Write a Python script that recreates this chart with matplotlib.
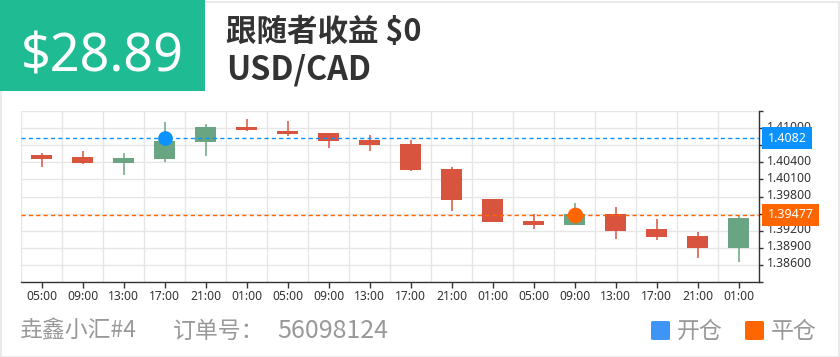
import matplotlib
matplotlib.use("Agg")
import matplotlib.pyplot as plt
import matplotlib.transforms as mtransforms
from matplotlib.patches import Rectangle, FancyBboxPatch
import numpy as np

plt.rcParams['font.family'] = ['Noto Sans CJK SC', 'DejaVu Sans']

# ---- data ----
time_labels = ["05:00", "09:00", "13:00", "17:00", "21:00", "01:00", "05:00", "09:00", "13:00",
               "17:00", "21:00", "01:00", "05:00", "09:00", "13:00", "17:00", "21:00", "01:00"]
opens  = [1.40528, 1.40488, 1.40388, 1.40453, 1.40756, 1.41025, 1.40944, 1.40909, 1.40786,
          1.40721, 1.40288, 1.39756, 1.39370, 1.39295, 1.39487, 1.39225, 1.39112, 1.38896]
closes = [1.40463, 1.40388, 1.40475, 1.40774, 1.41025, 1.40972, 1.40891, 1.40768, 1.40709,
          1.40270, 1.39744, 1.39353, 1.39295, 1.39487, 1.39200, 1.39095, 1.38896, 1.39423]
highs  = [1.40568, 1.40593, 1.40563, 1.41102, 1.41067, 1.41165, 1.41125, 1.40919, 1.40884,
          1.40791, 1.40318, 1.39760, 1.39498, 1.39686, 1.39616, 1.39411, 1.39172, 1.39463]
lows   = [1.40312, 1.40375, 1.40177, 1.40405, 1.40516, 1.40949, 1.40867, 1.40651, 1.40593,
          1.40247, 1.39551, 1.39350, 1.39230, 1.39295, 1.39060, 1.39037, 1.38726, 1.38656]
y_ticks = [1.383, 1.386, 1.389, 1.392, 1.395, 1.398, 1.401, 1.404, 1.407, 1.410, 1.413]
y_labels = ["", "1.38600", "1.38900", "1.39200", "", "1.39800", "1.40100", "1.40400", "", "1.41000", ""]
open_index, open_price = 3, 1.4082
close_index, close_price = 13, 1.39477
profit_text = "$28.89"
follower_text = "跟随者收益 $0"
symbol = "USD/CAD"
account = "垚鑫小汇#4"
order_label = "订单号："
order_no = "56098124"
legend_labels = ["开仓", "平仓"]

# ---- style ----
W, H = 840, 357
UP, DOWN = "#69a583", "#d9543f"
BLUE, ORANGE = "#0c92ff", "#ff6600"
LEG_BLUE = "#3d96f6"
GRID = "#e6e6e6"

fig = plt.figure(figsize=(W / 100, H / 100), dpi=100)
fig.patch.set_facecolor("white")

def px(x, y):
    return x / W, 1 - y / H

# outer frame
fig.patches.append(Rectangle((0.5 / W, 0.5 / H), (W - 2) / W, (H - 2) / H, transform=fig.transFigure,
                             fill=False, ec="#e6e6e6", lw=1.2, zorder=0))
# header box
x0, y0 = px(0, 91)
fig.patches.append(Rectangle((0, y0), 205 / W, 91 / H, transform=fig.transFigure,
                             fc="#1fbc94", ec="none", zorder=1))
fig.text(*px(102, 72), profit_text, color="white", fontsize=37.5, ha="center", va="baseline",
         family=["Noto Sans", "DejaVu Sans"], fontweight="medium", zorder=2)
fig.text(*px(226, 41), follower_text, color="#333333", fontsize=22, fontweight="bold",
         ha="left", va="baseline")
fig.text(*px(226, 80), symbol, color="#333333", fontsize=23.3, fontweight="bold",
         ha="left", va="baseline")

# ---- chart ----
L, R, T, B = 21, 759, 111, 282
ax = fig.add_axes([L / W, 1 - B / H, (R - L) / W, (B - T) / H])
ax.set_xlim(-0.5, len(time_labels) - 0.5)
ax.set_ylim(y_ticks[0], y_ticks[-1])

x = np.arange(len(time_labels))
o, c, h, l = map(np.array, (opens, closes, highs, lows))
cols = [UP if cc >= oo else DOWN for oo, cc in zip(o, c)]
ax.vlines(x, l, h, colors=cols, lw=1.1, zorder=3)
bottoms = np.minimum(o, c)
heights = np.maximum(np.abs(c - o), 0.00005)
ax.bar(x, heights, bottom=bottoms, width=0.5, color=cols, zorder=4, linewidth=0)

ax.axhline(open_price, color=BLUE, lw=1.0, dashes=(3, 2.3), zorder=5)
ax.axhline(close_price, color=ORANGE, lw=1.0, dashes=(3, 2.3), zorder=5)
ax.scatter([open_index], [open_price], s=112, color=BLUE, zorder=6, linewidths=0)
ax.scatter([close_index], [close_price], s=128, color=ORANGE, zorder=6, linewidths=0)

# axes styling
for s in ("left", "top"):
    ax.spines[s].set_visible(False)
for s in ("right", "bottom"):
    ax.spines[s].set_color("#333333")
    ax.spines[s].set_linewidth(1.0)
ax.yaxis.tick_right()
ax.set_yticks(y_ticks)
ax.set_yticklabels(y_labels)
ax.set_xticks(x)
ax.set_xticklabels(time_labels)
ax.set_xticks(np.arange(-0.5, len(time_labels), 1.0), minor=True)
ax.tick_params(axis="y", length=3, width=1, color="#333333", labelsize=8.8, labelcolor="#333333", pad=3)
ax.tick_params(axis="x", which="major", length=4, width=1, color="#333333", labelsize=8.7,
               labelcolor="#333333", pad=2)
ax.tick_params(axis="x", which="minor", length=0)
for lab in ax.get_xticklabels() + ax.get_yticklabels():
    lab.set_family(["Noto Sans", "DejaVu Sans"])
# y labels sit slightly above their grid lines, as in the reference
shift = mtransforms.ScaledTranslation(0, 2.5 / 100, fig.dpi_scale_trans)
for lab in ax.get_yticklabels():
    lab.set_transform(lab.get_transform() + shift)
ax.grid(axis="y", which="major", color=GRID, lw=1.0, zorder=0)
ax.grid(axis="x", which="minor", color=GRID, lw=1.0, zorder=0)
ax.set_axisbelow(True)

# price tags on the right
blend = mtransforms.blended_transform_factory(ax.transAxes, ax.transData)
yunit = (y_ticks[-1] - y_ticks[0]) / (B - T)
for price, col, text, wpx in ((open_price, BLUE, "1.4082", 50), (close_price, ORANGE, "1.39477", 57)):
    rx = (762 - L) / (R - L)
    rect = Rectangle((rx, price - 11 * yunit), wpx / (R - L), 22 * yunit, transform=blend,
                     fc=col, ec="none", clip_on=False, zorder=10)
    ax.add_patch(rect)
    ax.text(rx + wpx / 2 / (R - L), price, text, transform=blend, color="white", fontsize=9,
            ha="center", va="center", clip_on=False, zorder=11, family=["Noto Sans", "DejaVu Sans"])

# ---- footer ----
fcol = "#999999"
fig.text(*px(20, 331), account, color=fcol, fontsize=16.5, ha="left", va="center")
fig.text(*px(173, 331), order_label, color=fcol, fontsize=16.5, ha="left", va="center")
fig.text(*px(277, 331), order_no, color=fcol, fontsize=18, ha="left", va="center")
for (sx, lx), col, lab in zip(((651, 677), (745, 771)), (LEG_BLUE, ORANGE), legend_labels):
    bx, by = px(sx, 340)
    fig.patches.append(FancyBboxPatch((bx, by), 19 / W, 19 / H, transform=fig.transFigure,
                                      boxstyle="round,pad=0,rounding_size=0.003", fc=col, ec="none"))
    fig.text(*px(lx, 331), lab, color=fcol, fontsize=16.5, ha="left", va="center")

fig.savefig("out.png", dpi=100)
